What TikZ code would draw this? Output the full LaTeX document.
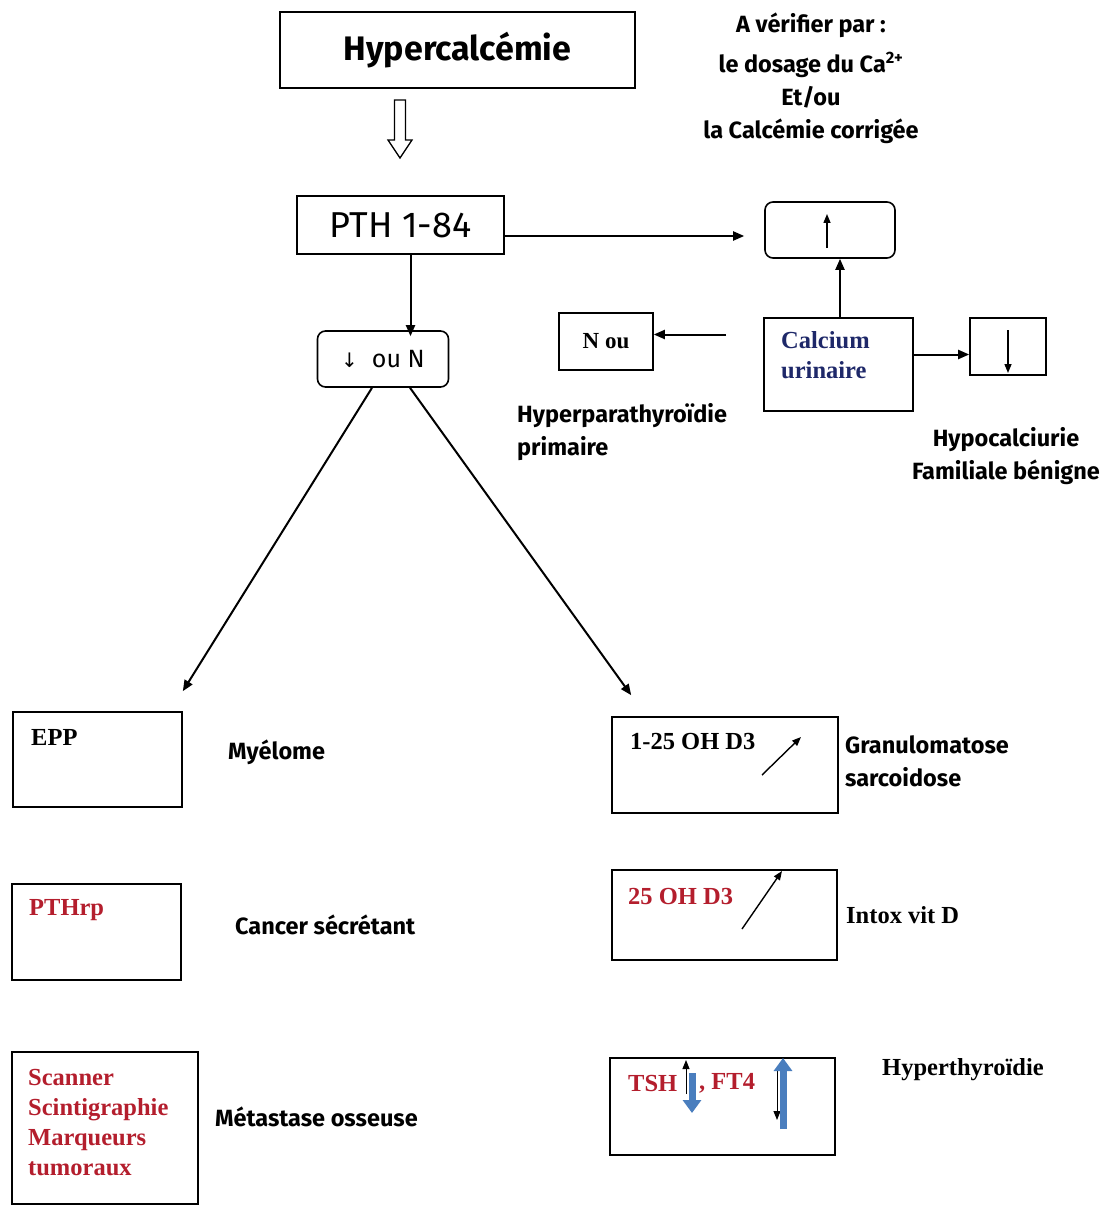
\documentclass[tikz,border=0pt]{standalone}
\usepackage{fontspec}
\setmainfont{Liberation Serif}
\newfontfamily\comicf{Fira Sans}
\newfontfamily\symf{DejaVu Sans}
\usetikzlibrary{arrows.meta,positioning,calc}
\definecolor{darkred}{RGB}{180,30,45}
\definecolor{navyblue}{RGB}{30,40,105}
\definecolor{steelblue}{RGB}{74,126,190}
\begin{document}
\begin{tikzpicture}[x=1pt, y=-1pt,
    box/.style={draw, rectangle, line width=1.6pt, inner sep=0pt},
    rbox/.style={box, rounded corners=8pt},
    sanslbl/.style={font=\comicf\bfseries\fontsize{23.5}{33}\selectfont, inner sep=0pt, align=left},
    seriflbl/.style={font=\bfseries\fontsize{24.5}{30}\selectfont, inner sep=0pt, align=left},
    flow/.style={-{Triangle[length=11pt,width=9pt]}, line width=2pt},
    tip/.style={-{Triangle[length=9pt,width=7pt]}, line width=1.4pt},
    bluearrow/.style={-{Triangle[length=13pt,width=18pt]}, line width=7pt, steelblue}
]
    \useasboundingbox[fill=white] (0,0) rectangle (1103,1206);

    % haut
    \node[box, minimum width=355pt, minimum height=76pt, font=\comicf\bfseries\fontsize{34}{38}\selectfont] (hyp) at (457.5,50) {Hypercalc\'emie};
    \node[sanslbl, align=center, anchor=north] (verif) at (811,13) {A v\'erifier par :\\[7pt] le dosage du Ca\textsuperscript{2+}\\ Et/ou\\ la Calc\'emie corrig\'ee};
    \draw[line width=1.3pt] (394.5,100) -- (405.5,100) -- (405.5,140) -- (412,140) -- (400,158) -- (388,140) -- (394.5,140) -- cycle;

    % PTH
    \node[box, minimum width=207pt, minimum height=58pt, font=\comicf\fontsize{36}{40}\selectfont] (pth) at (400.5,225) {PTH 1-84};
    \node[rbox, minimum width=130pt, minimum height=56pt] (up) at (830,230) {};
    \node[box, minimum width=149pt, minimum height=93pt] (ca) at (838.5,364.5) {};
    \node[seriflbl, navyblue, anchor=west] (calbl) at (781,355) {Calcium\\urinaire};
    \node[box, minimum width=94pt, minimum height=57pt, font=\bfseries\fontsize{23}{26}\selectfont] (nou) at (606,341.5) {N ou};
    \node[box, minimum width=76pt, minimum height=57pt] (dn) at (1008,346.5) {};
    \node[rbox, minimum width=131pt, minimum height=56pt, font=\comicf\fontsize{25}{28}\selectfont] (ouN) at (383,359) {{\symf\fontsize{20}{24}\selectfont\textdownarrow}\hspace{14pt}ou N};
    \node[sanslbl, anchor=west] (hpp) at (517,432) {Hyperparathyro\"idie\\primaire};
    \node[sanslbl, align=center] (hcf) at (1006,456) {Hypocalciurie\\Familiale b\'enigne};

    \draw[flow, shorten >=20pt] ([yshift=-11pt]pth.east) -- ([yshift=-11pt]pth.east -| up.west);
    \draw[flow] (ca.north -| 840,0) -- (up.south -| 840,0);
    \draw[flow, shorten <=37pt] ([yshift=7pt]nou.east -| ca.west) -- ([yshift=7pt]nou.east);
    \draw[flow] ([yshift=-8pt]dn.west -| ca.east) -- ([yshift=-8pt]dn.west);
    \draw[flow] ([xshift=10pt]pth.south) -- ([xshift=10pt,yshift=-6pt]pth.south |- ouN.north);
    \draw[tip] (827,248) -- (827,214);
    \draw[tip] (1008,330) -- (1008,373);

    % colonne gauche
    \node[box, minimum width=169pt, minimum height=95pt] (epp) at (97.5,759.5) {};
    \node[box, minimum width=169pt, minimum height=96pt] (pthrp) at (96.5,932) {};
    \node[box, minimum width=186pt, minimum height=152pt] (scan) at (105,1128) {};
    \node[seriflbl, anchor=west] at (31,737) {EPP};
    \node[seriflbl, darkred, anchor=west] at (29,910) {PTHrp};
    \node[seriflbl, darkred, anchor=north west] at (28,1069) {Scanner\\Scintigraphie\\Marqueurs\\tumoraux};
    \node[sanslbl, anchor=west] (mye) at (228,752) {My\'elome};
    \node[sanslbl, anchor=west] (cancer) at (235,925) {Cancer s\'ecr\'etant};
    \node[sanslbl, anchor=west] (meta) at (215,1117) {M\'etastase osseuse};

    % colonne droite
    \node[box, minimum width=226pt, minimum height=96pt] (d125) at (725,765) {};
    \node[box, minimum width=225pt, minimum height=90pt] (d25) at (724.5,915) {};
    \node[box, minimum width=225pt, minimum height=97pt] (tsh) at (722.5,1106.5) {};
    \node[seriflbl, anchor=west] at (630,742) {1-25 OH D3};
    \node[seriflbl, darkred, anchor=west] at (628,896) {25 OH D3};
    \node[seriflbl, darkred, anchor=west] at (628,1083) {TSH};
    \node[seriflbl, darkred, anchor=west] at (699,1083) {, FT4};
    \node[sanslbl, anchor=west] (granu) at (845,761) {Granulomatose\\sarcoidose};
    \node[seriflbl, anchor=west] (intox) at (846,915) {Intox vit D};
    \node[seriflbl, anchor=west] (hyperthy) at (882,1070) {Hyperthyro\"idie};
    \draw[tip] (762,775) -- (801,737);
    \draw[tip] (742,929) -- (782,871);
    \draw[tip, line width=1pt] (686,1094) -- (686,1060);
    \draw[tip, line width=1pt] (777,1068) -- (777,1120);
    \draw[bluearrow] (692,1073) -- (692,1113);
    \draw[bluearrow] (783,1129) -- (783,1058);

    % branches
    \draw[flow] ([xshift=-11pt]ouN.south) -- ([yshift=20pt]epp.north east);
    \draw[flow] ([xshift=27pt]ouN.south) -- ([xshift=20pt,yshift=21pt]d125.north west);
\end{tikzpicture}
\end{document}
